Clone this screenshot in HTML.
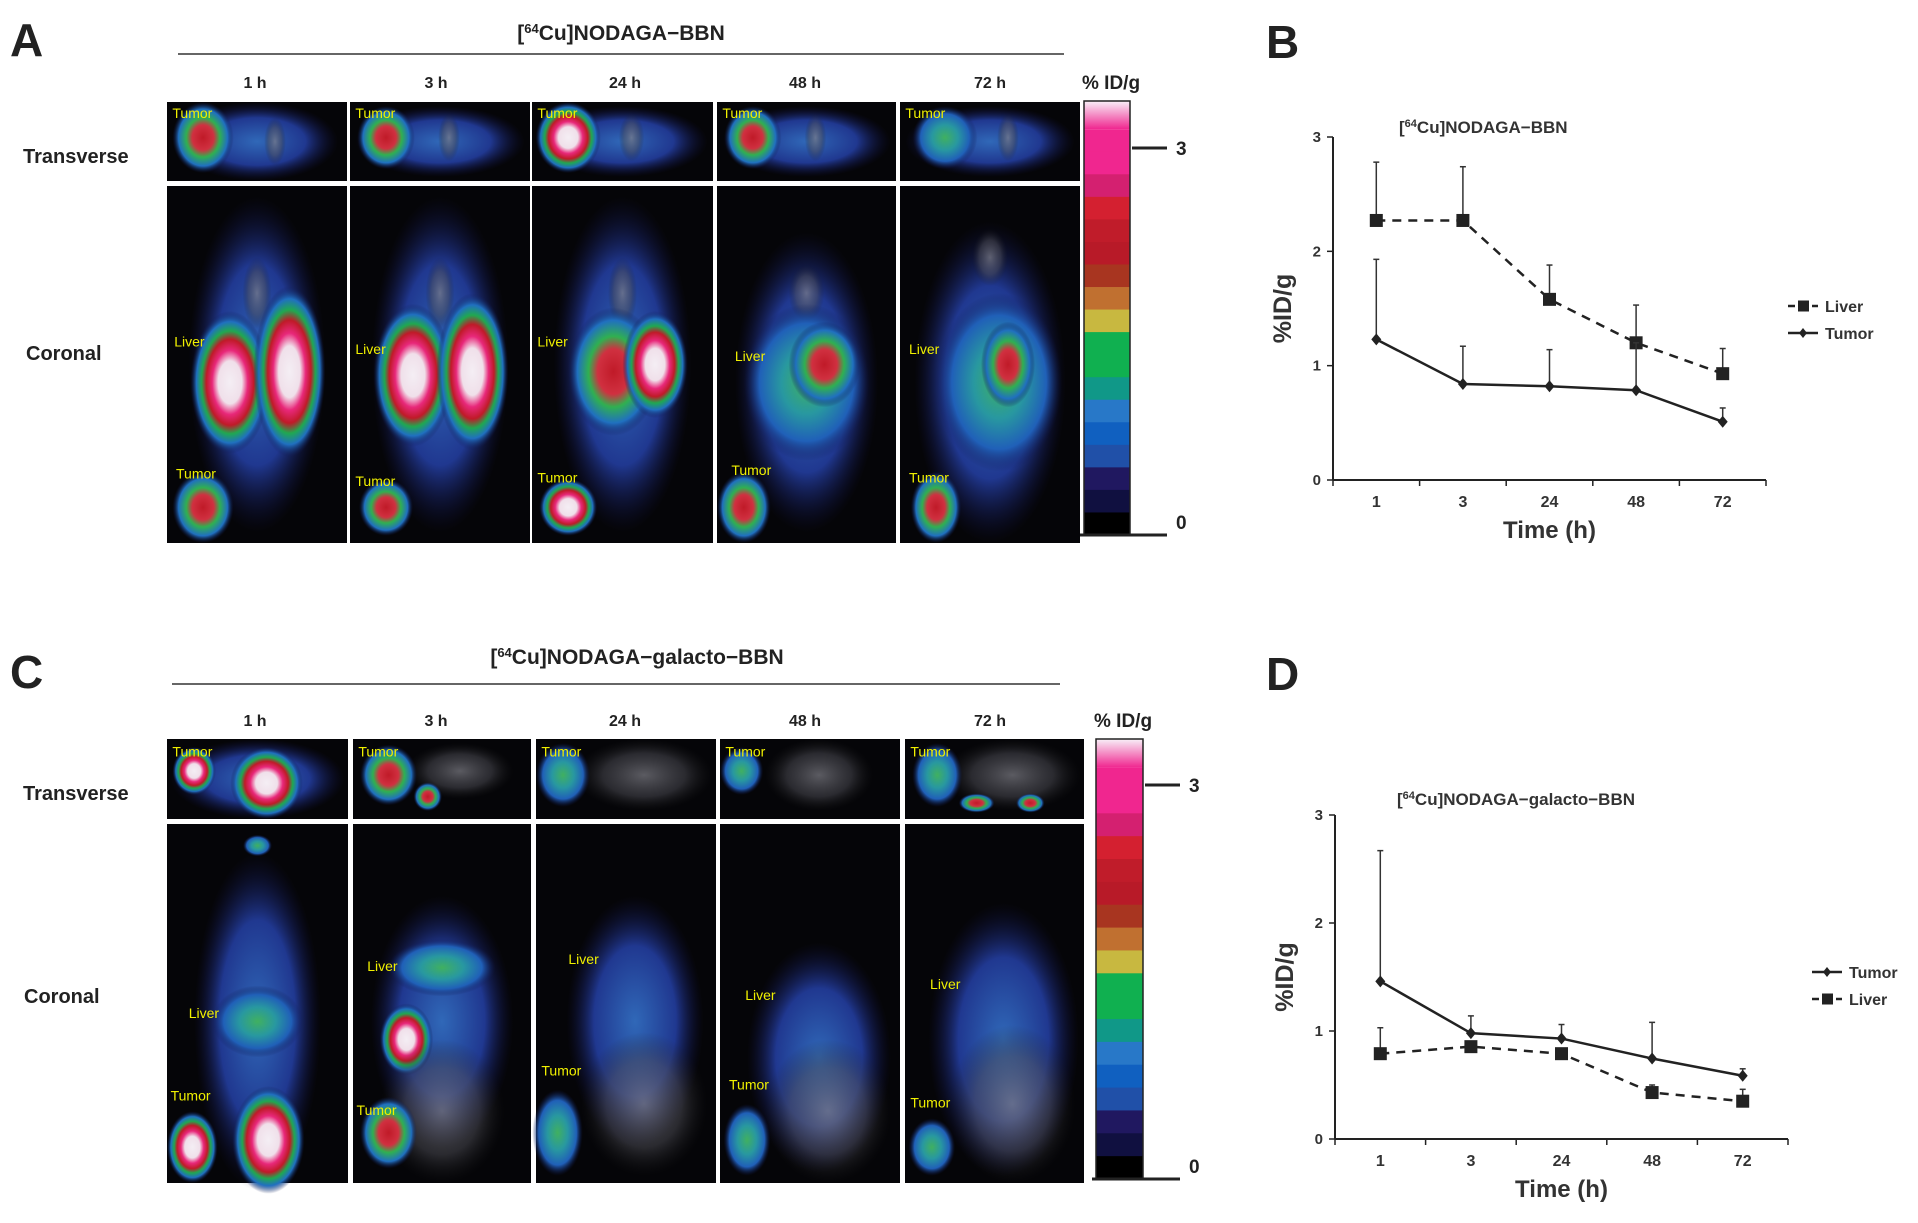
<!DOCTYPE html>
<html><head><meta charset="utf-8">
<style>
html,body{margin:0;padding:0;background:#fff;}
svg text{font-family:"Liberation Sans",sans-serif;}
</style></head>
<body>
<svg id="fig" width="1918" height="1218" viewBox="0 0 1918 1218" xmlns="http://www.w3.org/2000/svg">
<defs>
  <radialGradient id="hot"><stop offset="0" stop-color="#f4eef4"/><stop offset="0.3" stop-color="#f0e0ea"/><stop offset="0.45" stop-color="#e8287a"/><stop offset="0.6" stop-color="#c01a28"/><stop offset="0.72" stop-color="#20a850"/><stop offset="0.85" stop-color="#2070c0"/><stop offset="1" stop-color="#101850" stop-opacity="0"/></radialGradient>
  <radialGradient id="warm"><stop offset="0" stop-color="#c01a28"/><stop offset="0.35" stop-color="#d03040"/><stop offset="0.55" stop-color="#30b050"/><stop offset="0.8" stop-color="#2070c0"/><stop offset="1" stop-color="#101850" stop-opacity="0"/></radialGradient>
  <radialGradient id="mid"><stop offset="0" stop-color="#40b060"/><stop offset="0.4" stop-color="#2898a0"/><stop offset="0.75" stop-color="#2060b8"/><stop offset="1" stop-color="#101850" stop-opacity="0"/></radialGradient>
  <radialGradient id="cool"><stop offset="0" stop-color="#3068b8"/><stop offset="0.6" stop-color="#203890"/><stop offset="1" stop-color="#101040" stop-opacity="0"/></radialGradient>
  <radialGradient id="gray"><stop offset="0" stop-color="#808088" stop-opacity="0.7"/><stop offset="0.6" stop-color="#505058" stop-opacity="0.5"/><stop offset="1" stop-color="#202020" stop-opacity="0"/></radialGradient>
</defs>

<text x="10" y="56" font-size="46" font-weight="bold" fill="#222">A</text>
<text x="1266" y="58" font-size="46" font-weight="bold" fill="#222">B</text>
<text x="10" y="688" font-size="46" font-weight="bold" fill="#222">C</text>
<text x="1266" y="690" font-size="46" font-weight="bold" fill="#222">D</text>

<text x="621" y="40" font-size="21" font-weight="bold" text-anchor="middle" fill="#222">[<tspan font-size="13" dy="-7">64</tspan><tspan dy="7">Cu]NODAGA−BBN</tspan></text>
<line x1="178" y1="54" x2="1064" y2="54" stroke="#333" stroke-width="1.5"/>
<text x="23" y="163" font-size="20" font-weight="bold" fill="#222">Transverse</text>
<text x="26" y="360" font-size="20" font-weight="bold" fill="#222">Coronal</text>

<text x="637" y="664" font-size="21" font-weight="bold" text-anchor="middle" fill="#222">[<tspan font-size="13" dy="-7">64</tspan><tspan dy="7">Cu]NODAGA−galacto−BBN</tspan></text>
<line x1="172" y1="684" x2="1060" y2="684" stroke="#333" stroke-width="1.5"/>
<text x="23" y="800" font-size="20" font-weight="bold" fill="#222">Transverse</text>
<text x="24" y="1003" font-size="20" font-weight="bold" fill="#222">Coronal</text>

<g id="images"></g>
<g id="colorbars"></g>
<g id="chartB"></g>
<g id="chartD"></g>
</svg>

<script>
const timeCategories = ["1", "3", "24", "48", "72"];
const yTicks = [0, 1, 2, 3];
const bLiver = [2.27, 2.27, 1.58, 1.20, 0.93];
const bLiverErr = [2.78, 2.74, 1.88, 1.53, 1.15];
const bTumor = [1.23, 0.84, 0.82, 0.785, 0.51];
const bTumorErr = [1.93, 1.17, 1.14, 1.20, 0.63];
const dTumor = [1.46, 0.98, 0.93, 0.745, 0.586];
const dTumorErr = [2.67, 1.14, 1.06, 1.08, 0.65];
const dLiver = [0.79, 0.855, 0.79, 0.43, 0.35];
const dLiverErr = [1.03, 0.87, 0.80, 0.50, 0.46];
const timeLabels = ["1 h", "3 h", "24 h", "48 h", "72 h"];

const NS = "http://www.w3.org/2000/svg";
function mk(tag, attrs, parent) {
  const e = document.createElementNS(NS, tag);
  for (const k in attrs) e.setAttribute(k, attrs[k]);
  parent.appendChild(e);
  return e;
}

const imgG = document.getElementById("images");
const colsA = [[167,347],[350,530],[532,713],[717,896],[900,1080]];
const colsC = [[167,348],[353,531],[536,716],[720,900],[905,1084]];
const rowsA = {t:[102,181], c:[186,543]};
const rowsC = {t:[739,819], c:[824,1183]};
const timeXA = [255,436,625,805,990];
const timeXC = [255,436,625,805,990];

const transA = [
  [[0.5,0.5,0.45,0.5,"cool"],[0.2,0.45,0.17,0.45,"warm"],[0.6,0.5,0.06,0.3,"gray"]],
  [[0.5,0.5,0.47,0.45,"cool"],[0.2,0.45,0.16,0.4,"warm"],[0.55,0.45,0.06,0.3,"gray"]],
  [[0.5,0.5,0.47,0.45,"cool"],[0.2,0.45,0.18,0.45,"hot"],[0.55,0.45,0.07,0.3,"gray"]],
  [[0.5,0.5,0.47,0.45,"cool"],[0.2,0.45,0.16,0.4,"warm"],[0.55,0.45,0.06,0.3,"gray"]],
  [[0.5,0.5,0.47,0.45,"cool"],[0.25,0.45,0.18,0.4,"mid"],[0.6,0.45,0.06,0.3,"gray"]]
];
const corA = [
  [[0.5,0.5,0.38,0.47,"cool"],[0.5,0.3,0.08,0.1,"gray"],[0.35,0.55,0.22,0.2,"hot"],[0.68,0.52,0.2,0.24,"hot"],[0.2,0.9,0.17,0.1,"warm"]],
  [[0.5,0.5,0.38,0.47,"cool"],[0.5,0.3,0.08,0.1,"gray"],[0.35,0.53,0.22,0.2,"hot"],[0.68,0.52,0.2,0.22,"hot"],[0.2,0.9,0.15,0.08,"warm"]],
  [[0.5,0.5,0.38,0.47,"cool"],[0.5,0.3,0.08,0.1,"gray"],[0.45,0.52,0.25,0.18,"warm"],[0.68,0.5,0.18,0.15,"hot"],[0.2,0.9,0.16,0.08,"hot"]],
  [[0.5,0.55,0.4,0.42,"cool"],[0.5,0.3,0.1,0.08,"gray"],[0.5,0.55,0.35,0.22,"mid"],[0.6,0.5,0.2,0.12,"warm"],[0.15,0.9,0.15,0.1,"warm"]],
  [[0.5,0.55,0.42,0.45,"cool"],[0.5,0.2,0.1,0.08,"gray"],[0.55,0.55,0.35,0.25,"mid"],[0.6,0.5,0.15,0.12,"warm"],[0.2,0.9,0.14,0.1,"warm"]]
];
const transC = [
  [[0.5,0.5,0.48,0.5,"cool"],[0.15,0.4,0.12,0.3,"hot"],[0.55,0.55,0.2,0.45,"hot"]],
  [[0.6,0.4,0.3,0.35,"gray"],[0.2,0.45,0.16,0.38,"warm"],[0.42,0.72,0.08,0.18,"warm"]],
  [[0.6,0.45,0.38,0.45,"gray"],[0.15,0.45,0.15,0.4,"mid"]],
  [[0.55,0.45,0.3,0.45,"gray"],[0.12,0.4,0.12,0.3,"mid"]],
  [[0.6,0.45,0.38,0.45,"gray"],[0.18,0.45,0.14,0.4,"mid"],[0.4,0.8,0.1,0.12,"warm"],[0.7,0.8,0.08,0.12,"warm"]]
];
const corC = [
  [[0.5,0.55,0.35,0.47,"cool"],[0.5,0.06,0.08,0.03,"mid"],[0.5,0.55,0.25,0.1,"mid"],[0.56,0.88,0.2,0.15,"hot"],[0.14,0.9,0.14,0.1,"hot"]],
  [[0.5,0.55,0.4,0.35,"cool"],[0.5,0.4,0.3,0.08,"mid"],[0.3,0.6,0.15,0.1,"hot"],[0.5,0.8,0.35,0.2,"gray"],[0.2,0.86,0.16,0.1,"warm"]],
  [[0.55,0.55,0.38,0.35,"cool"],[0.6,0.78,0.35,0.2,"gray"],[0.12,0.86,0.14,0.12,"mid"]],
  [[0.55,0.65,0.4,0.32,"cool"],[0.6,0.8,0.35,0.2,"gray"],[0.15,0.88,0.13,0.1,"mid"]],
  [[0.55,0.6,0.42,0.38,"cool"],[0.6,0.78,0.35,0.22,"gray"],[0.15,0.9,0.13,0.08,"mid"]]
];
function drawPanel(x0,x1,y0,y1,blobs,name,labels){
  const g = mk("g",{},imgG);
  
  
  mk("rect",{x:x0,y:y0,width:x1-x0,height:y1-y0,fill:"#050508"},g);
  const w=x1-x0,h=y1-y0;
  blobs.forEach(b=>{
    mk("ellipse",{cx:x0+b[0]*w,cy:y0+b[1]*h,rx:b[2]*w,ry:b[3]*h,fill:"url(#"+b[4]+")"},g);
  });
  labels.forEach(l=>{
    const t=mk("text",{x:x0+l[0]*w,y:y0+l[1]*h,"font-size":14,fill:"#f0f000"},g);
    
    
    t.textContent=l[2];
  });
}
const corLabA=[[[0.04,0.45],[0.05,0.82]],[[0.03,0.47],[0.03,0.84]],[[0.03,0.45],[0.03,0.83]],[[0.1,0.49],[0.08,0.81]],[[0.05,0.47],[0.05,0.83]]];
const corLabC=[[[0.12,0.54],[0.02,0.77]],[[0.08,0.41],[0.02,0.81]],[[0.18,0.39],[0.03,0.7]],[[0.14,0.49],[0.05,0.74]],[[0.14,0.46],[0.03,0.79]]];
for(let i=0;i<5;i++){
  drawPanel(colsA[i][0],colsA[i][1],rowsA.t[0],rowsA.t[1],transA[i],"transverse-image-a-"+timeCategories[i]+"h",[[0.03,0.2,"Tumor"]]);
  drawPanel(colsA[i][0],colsA[i][1],rowsA.c[0],rowsA.c[1],corA[i],"coronal-image-a-"+timeCategories[i]+"h",[[corLabA[i][0][0],corLabA[i][0][1],"Liver"],[corLabA[i][1][0],corLabA[i][1][1],"Tumor"]]);
  drawPanel(colsC[i][0],colsC[i][1],rowsC.t[0],rowsC.t[1],transC[i],"transverse-image-c-"+timeCategories[i]+"h",[[0.03,0.22,"Tumor"]]);
  drawPanel(colsC[i][0],colsC[i][1],rowsC.c[0],rowsC.c[1],corC[i],"coronal-image-c-"+timeCategories[i]+"h",[[corLabC[i][0][0],corLabC[i][0][1],"Liver"],[corLabC[i][1][0],corLabC[i][1][1],"Tumor"]]);
  const ta=mk("text",{x:timeXA[i],y:88,"font-size":16,"font-weight":"bold","text-anchor":"middle",fill:"#222"},imgG);
  
  
  ta.textContent=timeLabels[i];
  const tc=mk("text",{x:timeXC[i],y:726,"font-size":16,"font-weight":"bold","text-anchor":"middle",fill:"#222"},imgG);
  
  
  tc.textContent=timeLabels[i];
}

const cbG=document.getElementById("colorbars");
const cbColors=["#f0268f","#f0268f","#d42070","#d42030","#c01c2a","#b81a28","#a83520","#c07030","#c8b840","#10b050","#10b050","#109888","#2878c8","#1060c0","#2050a8","#201860","#101040","#000000"];
function colorbar(x,y,w,h,tick3,name){
  const g=mk("g",{},cbG);
  
  
  const top=h*0.065;
  const grad=mk("linearGradient",{id:name+"-g",x1:0,y1:0,x2:0,y2:1},g);
  mk("stop",{offset:0,"stop-color":"#f8f0f8"},grad);
  mk("stop",{offset:1,"stop-color":"#f0268f"},grad);
  mk("rect",{x:x,y:y,width:w,height:top,fill:"url(#"+name+"-g)"},g);
  const bh=(h-top)/cbColors.length;
  cbColors.forEach((c,i)=>mk("rect",{x:x,y:y+top+i*bh,width:w,height:bh+0.5,fill:c},g));
  mk("rect",{x:x,y:y,width:w,height:h,fill:"none",stroke:"#222","stroke-width":1.5},g);
  mk("line",{x1:x+w+2,y1:tick3,x2:x+w+37,y2:tick3,stroke:"#222","stroke-width":3},g);
  mk("line",{x1:x-4,y1:y+h,x2:x+w+37,y2:y+h,stroke:"#222","stroke-width":3},g);
  const t3=mk("text",{x:x+w+46,y:tick3+7,"font-size":19,"font-weight":"bold",fill:"#222"},g); t3.textContent="3";
  const t0=mk("text",{x:x+w+46,y:y+h-6,"font-size":19,"font-weight":"bold",fill:"#222"},g); t0.textContent="0";
  const tl=mk("text",{x:x-2,y:y-12,"font-size":19,"font-weight":"bold",fill:"#222"},g); tl.textContent="% ID/g";
}
colorbar(1084,101,46,434,148,"colorbar-a");
colorbar(1096,739,47,440,785,"colorbar-c");

function chart(gid,ax,title,series,legendOrder){
  const g=document.getElementById(gid);
  const xs=i=>ax.x0+(ax.x1-ax.x0)/5*(i+0.5);
  const ys=v=>ax.y0-(ax.y0-ax.y3)*v/3;
  mk("line",{x1:ax.x0,y1:ax.y3,x2:ax.x0,y2:ax.y0,stroke:"#222","stroke-width":2},g);
  mk("line",{x1:ax.x0,y1:ax.y0,x2:ax.x1,y2:ax.y0,stroke:"#222","stroke-width":2},g);
  yTicks.forEach(v=>{
    mk("line",{x1:ax.x0-6,y1:ys(v),x2:ax.x0,y2:ys(v),stroke:"#222","stroke-width":1.5},g);
    const t=mk("text",{x:ax.x0-12,y:ys(v)+5,"font-size":15,"font-weight":"bold","text-anchor":"end",fill:"#333"},g);
    
    
    t.textContent=v;
  });
  for(let i=0;i<=5;i++){
    const x=ax.x0+(ax.x1-ax.x0)/5*i;
    mk("line",{x1:x,y1:ax.y0,x2:x,y2:ax.y0+6,stroke:"#222","stroke-width":1.5},g);
  }
  timeCategories.forEach((c,i)=>{
    const t=mk("text",{x:xs(i),y:ax.y0+27,"font-size":16,"font-weight":"bold","text-anchor":"middle",fill:"#333"},g);
    
    
    t.textContent=c;
  });
  const tt=mk("text",{x:ax.tx,y:ax.ty,"font-size":17,"font-weight":"bold",fill:"#333"},g);
  
  
  tt.innerHTML='[<tspan font-size="11" dy="-6">64</tspan><tspan dy="6">'+title+'</tspan>';
  const xl=mk("text",{x:(ax.x0+ax.x1)/2,y:ax.y0+58,"font-size":24,"font-weight":"bold","text-anchor":"middle",fill:"#333"},g);
  
  
  xl.textContent="Time (h)";
  const yl=mk("text",{x:0,y:0,"font-size":25,"font-weight":"bold","text-anchor":"middle",fill:"#333",transform:"translate("+(ax.x0-42)+","+((ax.y0+ax.y3)/2)+") rotate(-90)"},g);
  
  
  yl.textContent="%ID/g";
  series.forEach(s=>{
    const sg=mk("g",{},g);
    
    
    s.vals.forEach((v,i)=>{
      if(s.err[i]>v){
        mk("line",{x1:xs(i),y1:ys(v),x2:xs(i),y2:ys(s.err[i]),stroke:"#333","stroke-width":1.5},sg);
        mk("line",{x1:xs(i)-3,y1:ys(s.err[i]),x2:xs(i)+3,y2:ys(s.err[i]),stroke:"#333","stroke-width":1.5},sg);
      }
    });
    const pts=s.vals.map((v,i)=>xs(i)+","+ys(v)).join(" ");
    mk("polyline",{points:pts,fill:"none",stroke:"#222","stroke-width":2.5,"stroke-dasharray":s.dash?"9,7":"none"},sg);
    s.vals.forEach((v,i)=>{
      const m = s.marker==="square"
        ? mk("rect",{x:xs(i)-6.5,y:ys(v)-6.5,width:13,height:13,fill:"#222"},sg)
        : mk("polygon",{points:[xs(i),ys(v)-6,xs(i)+5,ys(v),xs(i),ys(v)+6,xs(i)-5,ys(v)].join(","),fill:"#222"},sg);
      
      
    });
  });
  legendOrder.forEach((s,k)=>{
    const ly=ax.ly+k*27;
    const lg=mk("g",{},g);
    
    
    mk("line",{x1:ax.lx,y1:ly,x2:ax.lx+30,y2:ly,stroke:"#222","stroke-width":2.5,"stroke-dasharray":s.dash?"7,5":"none"},lg);
    if(s.marker==="square") mk("rect",{x:ax.lx+10,y:ly-5.5,width:11,height:11,fill:"#222"},lg);
    else mk("polygon",{points:[ax.lx+15,ly-5,ax.lx+19,ly,ax.lx+15,ly+5,ax.lx+11,ly].join(","),fill:"#222"},lg);
    const t=mk("text",{x:ax.lx+37,y:ly+6,"font-size":16,"font-weight":"bold",fill:"#333"},lg);
    t.textContent=s.label;
  });
}
const sBL={name:"liver",label:"Liver",vals:bLiver,err:bLiverErr,dash:true,marker:"square"};
const sBT={name:"tumor",label:"Tumor",vals:bTumor,err:bTumorErr,dash:false,marker:"diamond"};
chart("chartB",{x0:1333,x1:1766,y0:480,y3:137,tx:1399,ty:133,lx:1788,ly:306},"Cu]NODAGA−BBN",[sBL,sBT],[sBL,sBT]);
const sDT={name:"tumor",label:"Tumor",vals:dTumor,err:dTumorErr,dash:false,marker:"diamond"};
const sDL={name:"liver",label:"Liver",vals:dLiver,err:dLiverErr,dash:true,marker:"square"};
chart("chartD",{x0:1335,x1:1788,y0:1139,y3:815,tx:1397,ty:805,lx:1812,ly:972},"Cu]NODAGA−galacto−BBN",[sDT,sDL],[sDT,sDL]);
</script>
</body></html>
